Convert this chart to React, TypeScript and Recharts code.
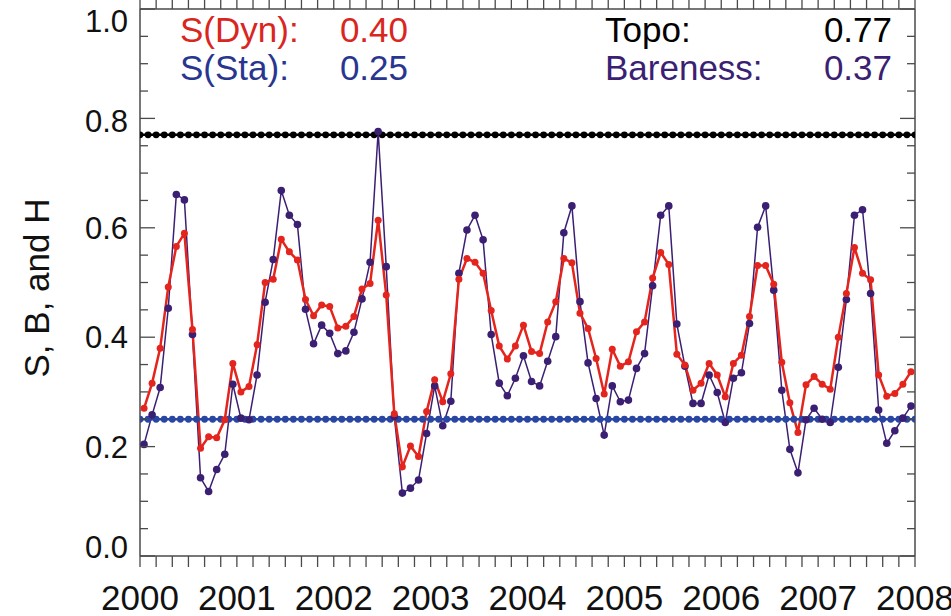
import React from "react";
import { LineChart, Line, XAxis, YAxis } from "recharts";

// monthly values, Jan 2000 .. Dec 2007
const dynamicS = [
  0.270, 0.316, 0.380, 0.492, 0.566, 0.590, 0.414, 0.197, 0.218, 0.216, 0.249, 0.352,
  0.300, 0.310, 0.386, 0.500, 0.506, 0.579, 0.556, 0.541, 0.469, 0.439, 0.459, 0.456,
  0.417, 0.420, 0.438, 0.488, 0.498, 0.614, 0.477, 0.260, 0.163, 0.201, 0.182, 0.264,
  0.322, 0.282, 0.333, 0.506, 0.544, 0.537, 0.517, 0.449, 0.384, 0.360, 0.384, 0.422,
  0.374, 0.370, 0.428, 0.465, 0.544, 0.536, 0.444, 0.416, 0.361, 0.296, 0.378, 0.347,
  0.355, 0.410, 0.428, 0.508, 0.555, 0.533, 0.369, 0.349, 0.303, 0.316, 0.352, 0.331,
  0.291, 0.352, 0.367, 0.438, 0.531, 0.531, 0.497, 0.354, 0.280, 0.226, 0.313, 0.328,
  0.314, 0.305, 0.400, 0.480, 0.564, 0.517, 0.505, 0.331, 0.292, 0.297, 0.314, 0.337,
];

const bareness = [
  0.204, 0.258, 0.308, 0.453, 0.661, 0.651, 0.405, 0.143, 0.118, 0.158, 0.186, 0.314,
  0.252, 0.249, 0.331, 0.464, 0.542, 0.668, 0.623, 0.606, 0.451, 0.388, 0.422, 0.407,
  0.370, 0.375, 0.409, 0.470, 0.537, 0.776, 0.529, 0.255, 0.115, 0.124, 0.139, 0.224,
  0.311, 0.238, 0.283, 0.517, 0.596, 0.623, 0.578, 0.405, 0.316, 0.293, 0.325, 0.366,
  0.319, 0.311, 0.356, 0.401, 0.591, 0.640, 0.465, 0.353, 0.288, 0.221, 0.311, 0.282,
  0.285, 0.343, 0.370, 0.494, 0.623, 0.640, 0.424, 0.347, 0.279, 0.279, 0.331, 0.299,
  0.244, 0.325, 0.335, 0.425, 0.601, 0.640, 0.486, 0.303, 0.195, 0.152, 0.249, 0.270,
  0.250, 0.244, 0.345, 0.469, 0.623, 0.633, 0.480, 0.267, 0.206, 0.229, 0.252, 0.274,
];

const TOPO = 0.77;
const STATIC_S = 0.25;

const years = [2000, 2001, 2002, 2003, 2004, 2005, 2006, 2007, 2008];
const yLabels = [0, 0.2, 0.4, 0.6, 0.8, 1.0];

const RED = "#e4251d";
const BLUE = "#2a46a3";
const PURPLE = "#3b1f73";
const AXIS = "#4a4a4a";
const FONT = '"Liberation Sans", Arial, Helvetica, sans-serif';

// series sit at mid-month, the constant lines at month boundaries
const seriesData = dynamicS.map((d, i) => ({
  t: years[0] + (i + 0.5) / 12,
  dyn: d,
  bare: bareness[i],
}));
const edgeData = Array.from({ length: dynamicS.length + 1 }, (_, k) => ({
  t: years[0] + k / 12,
  h: TOPO,
  s: STATIC_S,
}));

const xTicks = Array.from({ length: 49 }, (_, k) => years[0] + k / 6);
const yTicks = Array.from({ length: 21 }, (_, k) => (k * 5) / 100);

const isYear = (v: number) => Math.abs(v - Math.round(v)) < 1e-6;
const isMajor = (v: number) => yLabels.some((m) => Math.abs(m - v) < 1e-6);

// small vertical nudges for the y labels
const labelShift = (v: number) => (v > 0.99 ? 12 : v > 0.79 ? 3 : v < 0.01 ? -9 : 0);

const LeftTick = (props: any) => {
  const { x, y, payload } = props;
  const v = payload.value as number;
  const major = isMajor(v);
  return (
    <g>
      <line x1={x} x2={x + (major ? 15 : 8)} y1={y} y2={y} stroke={AXIS} strokeWidth={1.3} />
      {major && (
        <text x={x - 12} y={y + labelShift(v) + 11} textAnchor="end" fontSize={31} fontFamily={FONT} fill="#111">
          {v.toFixed(1)}
        </text>
      )}
    </g>
  );
};

const RightTick = (props: any) => {
  const { x, y, payload } = props;
  const v = payload.value as number;
  return <line x1={x} x2={x - (isMajor(v) ? 15 : 8)} y1={y} y2={y} stroke={AXIS} strokeWidth={1.3} />;
};

const BottomTick = (props: any) => {
  const { x, y, payload } = props;
  const v = payload.value as number;
  return (
    <g>
      <line x1={x} x2={x} y1={y} y2={y + 11} stroke={AXIS} strokeWidth={1.3} />
      {isYear(v) && (
        <text x={x} y={y + 54} textAnchor="middle" fontSize={35} fontFamily={FONT} fill="#111">
          {Math.round(v)}
        </text>
      )}
    </g>
  );
};

const TopTick = (props: any) => {
  const { x, y } = props;
  return <line x1={x} x2={x} y1={y} y2={y - 10} stroke={AXIS} strokeWidth={1.3} />;
};

export default function App() {
  return (
    <div style={{ position: "absolute", left: 0, top: 0, width: 951, height: 616, background: "#fff" }}>
      <LineChart
        width={951}
        height={616}
        data={seriesData}
        margin={{ top: 8, right: 35, bottom: 59, left: 139 }}
      >
        <XAxis
          xAxisId="bottom"
          dataKey="t"
          type="number"
          domain={[2000, 2008]}
          allowDataOverflow
          ticks={xTicks}
          interval={0}
          height={1}
          tickSize={0}
          tickMargin={0}
          tick={<BottomTick />}
          axisLine={{ stroke: AXIS, strokeWidth: 1.5 }}
        />
        <XAxis
          xAxisId="top"
          orientation="top"
          dataKey="t"
          type="number"
          domain={[2000, 2008]}
          allowDataOverflow
          ticks={xTicks}
          interval={0}
          height={1}
          tickSize={0}
          tickMargin={0}
          tick={<TopTick />}
          axisLine={{ stroke: AXIS, strokeWidth: 1.5 }}
        />
        <YAxis
          yAxisId="left"
          type="number"
          domain={[0, 1]}
          allowDataOverflow
          ticks={yTicks}
          interval={0}
          width={1}
          tickSize={0}
          tickMargin={0}
          tick={<LeftTick />}
          axisLine={{ stroke: AXIS, strokeWidth: 1.5 }}
        />
        <YAxis
          yAxisId="right"
          orientation="right"
          type="number"
          domain={[0, 1]}
          allowDataOverflow
          ticks={yTicks}
          interval={0}
          width={1}
          tickSize={0}
          tickMargin={0}
          tick={<RightTick />}
          axisLine={{ stroke: AXIS, strokeWidth: 1.5 }}
        />
        <Line
          xAxisId="bottom"
          yAxisId="left"
          data={edgeData}
          dataKey="h"
          stroke="#000"
          strokeWidth={2.5}
          dot={{ r: 3.4, fill: "#000", stroke: "#000", strokeWidth: 0 }}
          activeDot={false}
          isAnimationActive={false}
        />
        <Line
          xAxisId="bottom"
          yAxisId="left"
          data={edgeData}
          dataKey="s"
          stroke={BLUE}
          strokeWidth={2.5}
          dot={{ r: 3.4, fill: BLUE, stroke: BLUE, strokeWidth: 0 }}
          activeDot={false}
          isAnimationActive={false}
        />
        <Line
          xAxisId="bottom"
          yAxisId="left"
          dataKey="bare"
          stroke={PURPLE}
          strokeWidth={1.5}
          dot={{ r: 3.8, fill: PURPLE, stroke: PURPLE, strokeWidth: 0 }}
          activeDot={false}
          isAnimationActive={false}
        />
        <Line
          xAxisId="bottom"
          yAxisId="left"
          dataKey="dyn"
          stroke={RED}
          strokeWidth={2.5}
          dot={{ r: 3.5, fill: RED, stroke: RED, strokeWidth: 0 }}
          activeDot={false}
          isAnimationActive={false}
        />
      </LineChart>
      <svg
        width={951}
        height={616}
        style={{ position: "absolute", left: 0, top: 0, pointerEvents: "none" }}
        fontFamily={FONT}
        fontSize={35}
      >
        <text x={37} y={288} textAnchor="middle" transform="rotate(-90 37 288)" dy={12} fill="#111">
          S, B, and H
        </text>
        <text x={180} y={42} fill="#d9261f">S(Dyn):</text>
        <text x={408} y={42} fill="#d9261f" textAnchor="end">{(0.4).toFixed(2)}</text>
        <text x={180} y={80} fill="#28368f">S(Sta):</text>
        <text x={408} y={80} fill="#28368f" textAnchor="end">{STATIC_S.toFixed(2)}</text>
        <text x={605} y={42} fill="#000">Topo:</text>
        <text x={892} y={42} fill="#000" textAnchor="end">{TOPO.toFixed(2)}</text>
        <text x={605} y={80} fill={PURPLE}>Bareness:</text>
        <text x={892} y={80} fill={PURPLE} textAnchor="end">{(0.37).toFixed(2)}</text>
      </svg>
    </div>
  );
}
